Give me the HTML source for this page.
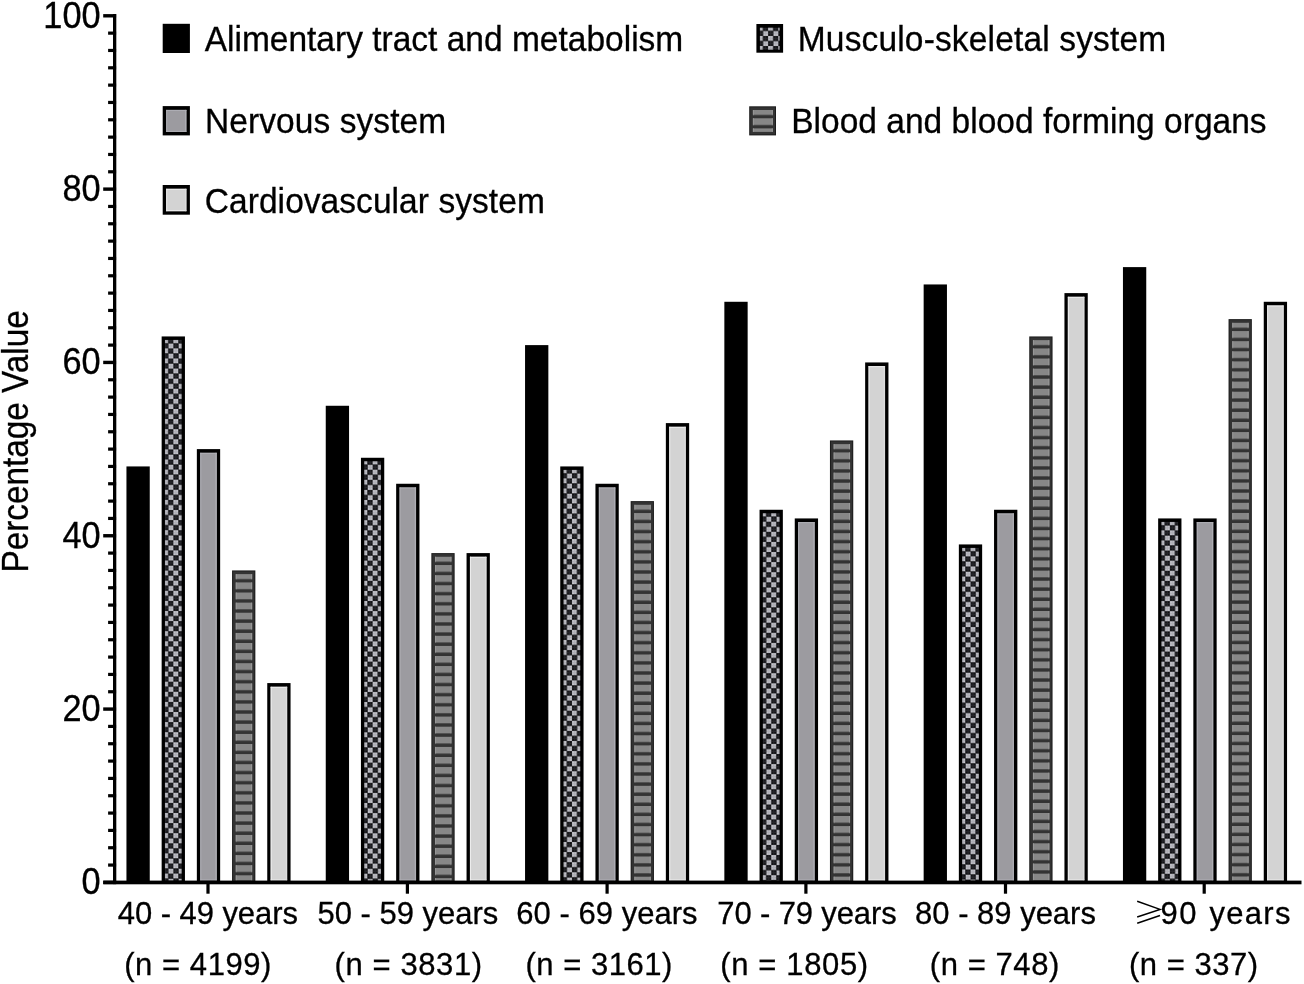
<!DOCTYPE html>
<html><head><meta charset="utf-8"><style>
html,body{margin:0;padding:0;background:#fff;}
body{width:1304px;height:984px;overflow:hidden;}
svg{display:block;will-change:transform;}
text{font-family:"Liberation Sans", sans-serif;fill:#000;stroke:#000;stroke-width:0.3px;}
</style></head><body>
<svg width="1304" height="984" viewBox="0 0 1304 984" shape-rendering="auto">
<defs>
<pattern id="ck1" patternUnits="userSpaceOnUse" x="163.15" y="338.29" width="10.2" height="10.1"><rect x="0.00" y="0.00" width="5.1" height="5.05" fill="#aeaeb5"/><rect x="0.35" y="0.35" width="1.5" height="1.5" fill="#c6c6ce"/><rect x="0.35" y="3.20" width="1.5" height="1.5" fill="#c6c6ce"/><rect x="3.25" y="0.35" width="1.5" height="1.5" fill="#c6c6ce"/><rect x="3.25" y="3.20" width="1.5" height="1.5" fill="#c6c6ce"/><rect x="5.10" y="5.05" width="5.1" height="5.05" fill="#aeaeb5"/><rect x="5.45" y="5.40" width="1.5" height="1.5" fill="#c6c6ce"/><rect x="5.45" y="8.25" width="1.5" height="1.5" fill="#c6c6ce"/><rect x="8.35" y="5.40" width="1.5" height="1.5" fill="#c6c6ce"/><rect x="8.35" y="8.25" width="1.5" height="1.5" fill="#c6c6ce"/><rect x="5.10" y="0.00" width="5.1" height="5.05" fill="#26262b"/><rect x="5.45" y="0.35" width="1.5" height="1.5" fill="#0a0a0d"/><rect x="5.45" y="3.20" width="1.5" height="1.5" fill="#0a0a0d"/><rect x="8.35" y="0.35" width="1.5" height="1.5" fill="#0a0a0d"/><rect x="8.35" y="3.20" width="1.5" height="1.5" fill="#0a0a0d"/><rect x="0.00" y="5.05" width="5.1" height="5.05" fill="#26262b"/><rect x="0.35" y="5.40" width="1.5" height="1.5" fill="#0a0a0d"/><rect x="0.35" y="8.25" width="1.5" height="1.5" fill="#0a0a0d"/><rect x="3.25" y="5.40" width="1.5" height="1.5" fill="#0a0a0d"/><rect x="3.25" y="8.25" width="1.5" height="1.5" fill="#0a0a0d"/></pattern>
<pattern id="st2" patternUnits="userSpaceOnUse" x="0" y="572.32" width="2000" height="10.1"><rect width="2000" height="6.7" fill="#878787"/></pattern>
<pattern id="se2" patternUnits="userSpaceOnUse" x="0" y="572.32" width="2000" height="10.1"><rect width="2000" height="6.7" fill="#989898"/></pattern>
<pattern id="ck3" patternUnits="userSpaceOnUse" x="362.45" y="459.62" width="10.2" height="10.1"><rect x="0.00" y="0.00" width="5.1" height="5.05" fill="#aeaeb5"/><rect x="0.35" y="0.35" width="1.5" height="1.5" fill="#c6c6ce"/><rect x="0.35" y="3.20" width="1.5" height="1.5" fill="#c6c6ce"/><rect x="3.25" y="0.35" width="1.5" height="1.5" fill="#c6c6ce"/><rect x="3.25" y="3.20" width="1.5" height="1.5" fill="#c6c6ce"/><rect x="5.10" y="5.05" width="5.1" height="5.05" fill="#aeaeb5"/><rect x="5.45" y="5.40" width="1.5" height="1.5" fill="#c6c6ce"/><rect x="5.45" y="8.25" width="1.5" height="1.5" fill="#c6c6ce"/><rect x="8.35" y="5.40" width="1.5" height="1.5" fill="#c6c6ce"/><rect x="8.35" y="8.25" width="1.5" height="1.5" fill="#c6c6ce"/><rect x="5.10" y="0.00" width="5.1" height="5.05" fill="#26262b"/><rect x="5.45" y="0.35" width="1.5" height="1.5" fill="#0a0a0d"/><rect x="5.45" y="3.20" width="1.5" height="1.5" fill="#0a0a0d"/><rect x="8.35" y="0.35" width="1.5" height="1.5" fill="#0a0a0d"/><rect x="8.35" y="3.20" width="1.5" height="1.5" fill="#0a0a0d"/><rect x="0.00" y="5.05" width="5.1" height="5.05" fill="#26262b"/><rect x="0.35" y="5.40" width="1.5" height="1.5" fill="#0a0a0d"/><rect x="0.35" y="8.25" width="1.5" height="1.5" fill="#0a0a0d"/><rect x="3.25" y="5.40" width="1.5" height="1.5" fill="#0a0a0d"/><rect x="3.25" y="8.25" width="1.5" height="1.5" fill="#0a0a0d"/></pattern>
<pattern id="st4" patternUnits="userSpaceOnUse" x="0" y="554.99" width="2000" height="10.1"><rect width="2000" height="6.7" fill="#878787"/></pattern>
<pattern id="se4" patternUnits="userSpaceOnUse" x="0" y="554.99" width="2000" height="10.1"><rect width="2000" height="6.7" fill="#989898"/></pattern>
<pattern id="ck5" patternUnits="userSpaceOnUse" x="561.75" y="468.28" width="10.2" height="10.1"><rect x="0.00" y="0.00" width="5.1" height="5.05" fill="#aeaeb5"/><rect x="0.35" y="0.35" width="1.5" height="1.5" fill="#c6c6ce"/><rect x="0.35" y="3.20" width="1.5" height="1.5" fill="#c6c6ce"/><rect x="3.25" y="0.35" width="1.5" height="1.5" fill="#c6c6ce"/><rect x="3.25" y="3.20" width="1.5" height="1.5" fill="#c6c6ce"/><rect x="5.10" y="5.05" width="5.1" height="5.05" fill="#aeaeb5"/><rect x="5.45" y="5.40" width="1.5" height="1.5" fill="#c6c6ce"/><rect x="5.45" y="8.25" width="1.5" height="1.5" fill="#c6c6ce"/><rect x="8.35" y="5.40" width="1.5" height="1.5" fill="#c6c6ce"/><rect x="8.35" y="8.25" width="1.5" height="1.5" fill="#c6c6ce"/><rect x="5.10" y="0.00" width="5.1" height="5.05" fill="#26262b"/><rect x="5.45" y="0.35" width="1.5" height="1.5" fill="#0a0a0d"/><rect x="5.45" y="3.20" width="1.5" height="1.5" fill="#0a0a0d"/><rect x="8.35" y="0.35" width="1.5" height="1.5" fill="#0a0a0d"/><rect x="8.35" y="3.20" width="1.5" height="1.5" fill="#0a0a0d"/><rect x="0.00" y="5.05" width="5.1" height="5.05" fill="#26262b"/><rect x="0.35" y="5.40" width="1.5" height="1.5" fill="#0a0a0d"/><rect x="0.35" y="8.25" width="1.5" height="1.5" fill="#0a0a0d"/><rect x="3.25" y="5.40" width="1.5" height="1.5" fill="#0a0a0d"/><rect x="3.25" y="8.25" width="1.5" height="1.5" fill="#0a0a0d"/></pattern>
<pattern id="st6" patternUnits="userSpaceOnUse" x="0" y="503.00" width="2000" height="10.1"><rect width="2000" height="6.7" fill="#878787"/></pattern>
<pattern id="se6" patternUnits="userSpaceOnUse" x="0" y="503.00" width="2000" height="10.1"><rect width="2000" height="6.7" fill="#989898"/></pattern>
<pattern id="ck7" patternUnits="userSpaceOnUse" x="761.05" y="511.61" width="10.2" height="10.1"><rect x="0.00" y="0.00" width="5.1" height="5.05" fill="#aeaeb5"/><rect x="0.35" y="0.35" width="1.5" height="1.5" fill="#c6c6ce"/><rect x="0.35" y="3.20" width="1.5" height="1.5" fill="#c6c6ce"/><rect x="3.25" y="0.35" width="1.5" height="1.5" fill="#c6c6ce"/><rect x="3.25" y="3.20" width="1.5" height="1.5" fill="#c6c6ce"/><rect x="5.10" y="5.05" width="5.1" height="5.05" fill="#aeaeb5"/><rect x="5.45" y="5.40" width="1.5" height="1.5" fill="#c6c6ce"/><rect x="5.45" y="8.25" width="1.5" height="1.5" fill="#c6c6ce"/><rect x="8.35" y="5.40" width="1.5" height="1.5" fill="#c6c6ce"/><rect x="8.35" y="8.25" width="1.5" height="1.5" fill="#c6c6ce"/><rect x="5.10" y="0.00" width="5.1" height="5.05" fill="#26262b"/><rect x="5.45" y="0.35" width="1.5" height="1.5" fill="#0a0a0d"/><rect x="5.45" y="3.20" width="1.5" height="1.5" fill="#0a0a0d"/><rect x="8.35" y="0.35" width="1.5" height="1.5" fill="#0a0a0d"/><rect x="8.35" y="3.20" width="1.5" height="1.5" fill="#0a0a0d"/><rect x="0.00" y="5.05" width="5.1" height="5.05" fill="#26262b"/><rect x="0.35" y="5.40" width="1.5" height="1.5" fill="#0a0a0d"/><rect x="0.35" y="8.25" width="1.5" height="1.5" fill="#0a0a0d"/><rect x="3.25" y="5.40" width="1.5" height="1.5" fill="#0a0a0d"/><rect x="3.25" y="8.25" width="1.5" height="1.5" fill="#0a0a0d"/></pattern>
<pattern id="st8" patternUnits="userSpaceOnUse" x="0" y="442.33" width="2000" height="10.1"><rect width="2000" height="6.7" fill="#878787"/></pattern>
<pattern id="se8" patternUnits="userSpaceOnUse" x="0" y="442.33" width="2000" height="10.1"><rect width="2000" height="6.7" fill="#989898"/></pattern>
<pattern id="ck9" patternUnits="userSpaceOnUse" x="960.35" y="546.28" width="10.2" height="10.1"><rect x="0.00" y="0.00" width="5.1" height="5.05" fill="#aeaeb5"/><rect x="0.35" y="0.35" width="1.5" height="1.5" fill="#c6c6ce"/><rect x="0.35" y="3.20" width="1.5" height="1.5" fill="#c6c6ce"/><rect x="3.25" y="0.35" width="1.5" height="1.5" fill="#c6c6ce"/><rect x="3.25" y="3.20" width="1.5" height="1.5" fill="#c6c6ce"/><rect x="5.10" y="5.05" width="5.1" height="5.05" fill="#aeaeb5"/><rect x="5.45" y="5.40" width="1.5" height="1.5" fill="#c6c6ce"/><rect x="5.45" y="8.25" width="1.5" height="1.5" fill="#c6c6ce"/><rect x="8.35" y="5.40" width="1.5" height="1.5" fill="#c6c6ce"/><rect x="8.35" y="8.25" width="1.5" height="1.5" fill="#c6c6ce"/><rect x="5.10" y="0.00" width="5.1" height="5.05" fill="#26262b"/><rect x="5.45" y="0.35" width="1.5" height="1.5" fill="#0a0a0d"/><rect x="5.45" y="3.20" width="1.5" height="1.5" fill="#0a0a0d"/><rect x="8.35" y="0.35" width="1.5" height="1.5" fill="#0a0a0d"/><rect x="8.35" y="3.20" width="1.5" height="1.5" fill="#0a0a0d"/><rect x="0.00" y="5.05" width="5.1" height="5.05" fill="#26262b"/><rect x="0.35" y="5.40" width="1.5" height="1.5" fill="#0a0a0d"/><rect x="0.35" y="8.25" width="1.5" height="1.5" fill="#0a0a0d"/><rect x="3.25" y="5.40" width="1.5" height="1.5" fill="#0a0a0d"/><rect x="3.25" y="8.25" width="1.5" height="1.5" fill="#0a0a0d"/></pattern>
<pattern id="st10" patternUnits="userSpaceOnUse" x="0" y="338.34" width="2000" height="10.1"><rect width="2000" height="6.7" fill="#878787"/></pattern>
<pattern id="se10" patternUnits="userSpaceOnUse" x="0" y="338.34" width="2000" height="10.1"><rect width="2000" height="6.7" fill="#989898"/></pattern>
<pattern id="ck11" patternUnits="userSpaceOnUse" x="1159.65" y="520.28" width="10.2" height="10.1"><rect x="0.00" y="0.00" width="5.1" height="5.05" fill="#aeaeb5"/><rect x="0.35" y="0.35" width="1.5" height="1.5" fill="#c6c6ce"/><rect x="0.35" y="3.20" width="1.5" height="1.5" fill="#c6c6ce"/><rect x="3.25" y="0.35" width="1.5" height="1.5" fill="#c6c6ce"/><rect x="3.25" y="3.20" width="1.5" height="1.5" fill="#c6c6ce"/><rect x="5.10" y="5.05" width="5.1" height="5.05" fill="#aeaeb5"/><rect x="5.45" y="5.40" width="1.5" height="1.5" fill="#c6c6ce"/><rect x="5.45" y="8.25" width="1.5" height="1.5" fill="#c6c6ce"/><rect x="8.35" y="5.40" width="1.5" height="1.5" fill="#c6c6ce"/><rect x="8.35" y="8.25" width="1.5" height="1.5" fill="#c6c6ce"/><rect x="5.10" y="0.00" width="5.1" height="5.05" fill="#26262b"/><rect x="5.45" y="0.35" width="1.5" height="1.5" fill="#0a0a0d"/><rect x="5.45" y="3.20" width="1.5" height="1.5" fill="#0a0a0d"/><rect x="8.35" y="0.35" width="1.5" height="1.5" fill="#0a0a0d"/><rect x="8.35" y="3.20" width="1.5" height="1.5" fill="#0a0a0d"/><rect x="0.00" y="5.05" width="5.1" height="5.05" fill="#26262b"/><rect x="0.35" y="5.40" width="1.5" height="1.5" fill="#0a0a0d"/><rect x="0.35" y="8.25" width="1.5" height="1.5" fill="#0a0a0d"/><rect x="3.25" y="5.40" width="1.5" height="1.5" fill="#0a0a0d"/><rect x="3.25" y="8.25" width="1.5" height="1.5" fill="#0a0a0d"/></pattern>
<pattern id="st12" patternUnits="userSpaceOnUse" x="0" y="321.01" width="2000" height="10.1"><rect width="2000" height="6.7" fill="#878787"/></pattern>
<pattern id="se12" patternUnits="userSpaceOnUse" x="0" y="321.01" width="2000" height="10.1"><rect width="2000" height="6.7" fill="#989898"/></pattern>
<pattern id="ck13" patternUnits="userSpaceOnUse" x="757.90" y="25.85" width="10.2" height="10.1"><rect x="0.00" y="0.00" width="5.1" height="5.05" fill="#aeaeb5"/><rect x="0.35" y="0.35" width="1.5" height="1.5" fill="#c6c6ce"/><rect x="0.35" y="3.20" width="1.5" height="1.5" fill="#c6c6ce"/><rect x="3.25" y="0.35" width="1.5" height="1.5" fill="#c6c6ce"/><rect x="3.25" y="3.20" width="1.5" height="1.5" fill="#c6c6ce"/><rect x="5.10" y="5.05" width="5.1" height="5.05" fill="#aeaeb5"/><rect x="5.45" y="5.40" width="1.5" height="1.5" fill="#c6c6ce"/><rect x="5.45" y="8.25" width="1.5" height="1.5" fill="#c6c6ce"/><rect x="8.35" y="5.40" width="1.5" height="1.5" fill="#c6c6ce"/><rect x="8.35" y="8.25" width="1.5" height="1.5" fill="#c6c6ce"/><rect x="5.10" y="0.00" width="5.1" height="5.05" fill="#26262b"/><rect x="5.45" y="0.35" width="1.5" height="1.5" fill="#0a0a0d"/><rect x="5.45" y="3.20" width="1.5" height="1.5" fill="#0a0a0d"/><rect x="8.35" y="0.35" width="1.5" height="1.5" fill="#0a0a0d"/><rect x="8.35" y="3.20" width="1.5" height="1.5" fill="#0a0a0d"/><rect x="0.00" y="5.05" width="5.1" height="5.05" fill="#26262b"/><rect x="0.35" y="5.40" width="1.5" height="1.5" fill="#0a0a0d"/><rect x="0.35" y="8.25" width="1.5" height="1.5" fill="#0a0a0d"/><rect x="3.25" y="5.40" width="1.5" height="1.5" fill="#0a0a0d"/><rect x="3.25" y="8.25" width="1.5" height="1.5" fill="#0a0a0d"/></pattern>
<pattern id="st14" patternUnits="userSpaceOnUse" x="0" y="108.20" width="2000" height="10.1"><rect width="2000" height="6.7" fill="#878787"/></pattern>
<pattern id="se14" patternUnits="userSpaceOnUse" x="0" y="108.20" width="2000" height="10.1"><rect width="2000" height="6.7" fill="#989898"/></pattern>
</defs>
<rect width="1304" height="984" fill="#fff"/>
<rect x="126.45" y="466.43" width="23.30" height="417.47" fill="#000"/>
<rect x="161.65" y="336.44" width="23.30" height="547.46" fill="#000"/>
<rect x="164.95" y="339.94" width="16.70" height="540.66" fill="url(#ck1)"/>
<rect x="196.85" y="449.10" width="23.30" height="434.80" fill="#000"/>
<rect x="200.25" y="452.80" width="16.50" height="427.70" fill="#9c9ba0"/>
<rect x="200.25" y="452.80" width="1" height="427.70" fill="#b0b0b6"/>
<rect x="200.25" y="452.80" width="16.50" height="1" fill="#b0b0b6"/>
<rect x="200.25" y="879.50" width="16.50" height="1" fill="#b0b0b6"/>
<rect x="215.45" y="452.80" width="1.3" height="427.70" fill="#aeaeb4"/>
<rect x="232.05" y="570.42" width="23.30" height="313.48" fill="#1c1c1c"/>
<rect x="233.05" y="571.42" width="21.30" height="311.48" fill="#333333"/>
<rect x="235.75" y="574.12" width="16.40" height="306.28" fill="url(#st2)"/>
<rect x="235.75" y="574.12" width="1" height="306.28" fill="url(#se2)"/>
<rect x="251.15" y="574.12" width="1" height="306.28" fill="url(#se2)"/>
<rect x="267.25" y="683.08" width="23.30" height="200.82" fill="#000"/>
<rect x="270.65" y="686.78" width="16.50" height="193.72" fill="#d3d3d3"/>
<rect x="270.65" y="686.78" width="1" height="193.72" fill="#eeeeee"/>
<rect x="270.65" y="686.78" width="16.50" height="1" fill="#eeeeee"/>
<rect x="270.65" y="879.50" width="16.50" height="1" fill="#eeeeee"/>
<rect x="285.85" y="686.78" width="1.3" height="193.72" fill="#dddddd"/>
<rect x="325.75" y="405.77" width="23.30" height="478.13" fill="#000"/>
<rect x="360.95" y="457.77" width="23.30" height="426.13" fill="#000"/>
<rect x="364.25" y="461.27" width="16.70" height="419.33" fill="url(#ck3)"/>
<rect x="396.15" y="483.76" width="23.30" height="400.14" fill="#000"/>
<rect x="399.55" y="487.46" width="16.50" height="393.04" fill="#9c9ba0"/>
<rect x="399.55" y="487.46" width="1" height="393.04" fill="#b0b0b6"/>
<rect x="399.55" y="487.46" width="16.50" height="1" fill="#b0b0b6"/>
<rect x="399.55" y="879.50" width="16.50" height="1" fill="#b0b0b6"/>
<rect x="414.75" y="487.46" width="1.3" height="393.04" fill="#aeaeb4"/>
<rect x="431.35" y="553.09" width="23.30" height="330.81" fill="#1c1c1c"/>
<rect x="432.35" y="554.09" width="21.30" height="328.81" fill="#333333"/>
<rect x="435.05" y="556.79" width="16.40" height="323.61" fill="url(#st4)"/>
<rect x="435.05" y="556.79" width="1" height="323.61" fill="url(#se4)"/>
<rect x="450.45" y="556.79" width="1" height="323.61" fill="url(#se4)"/>
<rect x="466.55" y="553.09" width="23.30" height="330.81" fill="#000"/>
<rect x="469.95" y="556.79" width="16.50" height="323.71" fill="#d3d3d3"/>
<rect x="469.95" y="556.79" width="1" height="323.71" fill="#eeeeee"/>
<rect x="469.95" y="556.79" width="16.50" height="1" fill="#eeeeee"/>
<rect x="469.95" y="879.50" width="16.50" height="1" fill="#eeeeee"/>
<rect x="485.15" y="556.79" width="1.3" height="323.71" fill="#dddddd"/>
<rect x="525.05" y="345.11" width="23.30" height="538.79" fill="#000"/>
<rect x="560.25" y="466.43" width="23.30" height="417.47" fill="#000"/>
<rect x="563.55" y="469.93" width="16.70" height="410.67" fill="url(#ck5)"/>
<rect x="595.45" y="483.76" width="23.30" height="400.14" fill="#000"/>
<rect x="598.85" y="487.46" width="16.50" height="393.04" fill="#9c9ba0"/>
<rect x="598.85" y="487.46" width="1" height="393.04" fill="#b0b0b6"/>
<rect x="598.85" y="487.46" width="16.50" height="1" fill="#b0b0b6"/>
<rect x="598.85" y="879.50" width="16.50" height="1" fill="#b0b0b6"/>
<rect x="614.05" y="487.46" width="1.3" height="393.04" fill="#aeaeb4"/>
<rect x="630.65" y="501.10" width="23.30" height="382.80" fill="#1c1c1c"/>
<rect x="631.65" y="502.10" width="21.30" height="380.80" fill="#333333"/>
<rect x="634.35" y="504.80" width="16.40" height="375.60" fill="url(#st6)"/>
<rect x="634.35" y="504.80" width="1" height="375.60" fill="url(#se6)"/>
<rect x="649.75" y="504.80" width="1" height="375.60" fill="url(#se6)"/>
<rect x="665.85" y="423.10" width="23.30" height="460.80" fill="#000"/>
<rect x="669.25" y="426.80" width="16.50" height="453.70" fill="#d3d3d3"/>
<rect x="669.25" y="426.80" width="1" height="453.70" fill="#eeeeee"/>
<rect x="669.25" y="426.80" width="16.50" height="1" fill="#eeeeee"/>
<rect x="669.25" y="879.50" width="16.50" height="1" fill="#eeeeee"/>
<rect x="684.45" y="426.80" width="1.3" height="453.70" fill="#dddddd"/>
<rect x="724.35" y="301.78" width="23.30" height="582.12" fill="#000"/>
<rect x="759.55" y="509.76" width="23.30" height="374.14" fill="#000"/>
<rect x="762.85" y="513.26" width="16.70" height="367.34" fill="url(#ck7)"/>
<rect x="794.75" y="518.43" width="23.30" height="365.47" fill="#000"/>
<rect x="798.15" y="522.13" width="16.50" height="358.37" fill="#9c9ba0"/>
<rect x="798.15" y="522.13" width="1" height="358.37" fill="#b0b0b6"/>
<rect x="798.15" y="522.13" width="16.50" height="1" fill="#b0b0b6"/>
<rect x="798.15" y="879.50" width="16.50" height="1" fill="#b0b0b6"/>
<rect x="813.35" y="522.13" width="1.3" height="358.37" fill="#aeaeb4"/>
<rect x="829.95" y="440.43" width="23.30" height="443.47" fill="#1c1c1c"/>
<rect x="830.95" y="441.43" width="21.30" height="441.47" fill="#333333"/>
<rect x="833.65" y="444.13" width="16.40" height="436.27" fill="url(#st8)"/>
<rect x="833.65" y="444.13" width="1" height="436.27" fill="url(#se8)"/>
<rect x="849.05" y="444.13" width="1" height="436.27" fill="url(#se8)"/>
<rect x="865.15" y="362.44" width="23.30" height="521.46" fill="#000"/>
<rect x="868.55" y="366.14" width="16.50" height="514.36" fill="#d3d3d3"/>
<rect x="868.55" y="366.14" width="1" height="514.36" fill="#eeeeee"/>
<rect x="868.55" y="366.14" width="16.50" height="1" fill="#eeeeee"/>
<rect x="868.55" y="879.50" width="16.50" height="1" fill="#eeeeee"/>
<rect x="883.75" y="366.14" width="1.3" height="514.36" fill="#dddddd"/>
<rect x="923.65" y="284.45" width="23.30" height="599.45" fill="#000"/>
<rect x="958.85" y="544.43" width="23.30" height="339.47" fill="#000"/>
<rect x="962.15" y="547.93" width="16.70" height="332.67" fill="url(#ck9)"/>
<rect x="994.05" y="509.76" width="23.30" height="374.14" fill="#000"/>
<rect x="997.45" y="513.46" width="16.50" height="367.04" fill="#9c9ba0"/>
<rect x="997.45" y="513.46" width="1" height="367.04" fill="#b0b0b6"/>
<rect x="997.45" y="513.46" width="16.50" height="1" fill="#b0b0b6"/>
<rect x="997.45" y="879.50" width="16.50" height="1" fill="#b0b0b6"/>
<rect x="1012.65" y="513.46" width="1.3" height="367.04" fill="#aeaeb4"/>
<rect x="1029.25" y="336.44" width="23.30" height="547.46" fill="#1c1c1c"/>
<rect x="1030.25" y="337.44" width="21.30" height="545.46" fill="#333333"/>
<rect x="1032.95" y="340.14" width="16.40" height="540.26" fill="url(#st10)"/>
<rect x="1032.95" y="340.14" width="1" height="540.26" fill="url(#se10)"/>
<rect x="1048.35" y="340.14" width="1" height="540.26" fill="url(#se10)"/>
<rect x="1064.45" y="293.11" width="23.30" height="590.79" fill="#000"/>
<rect x="1067.85" y="296.81" width="16.50" height="583.69" fill="#d3d3d3"/>
<rect x="1067.85" y="296.81" width="1" height="583.69" fill="#eeeeee"/>
<rect x="1067.85" y="296.81" width="16.50" height="1" fill="#eeeeee"/>
<rect x="1067.85" y="879.50" width="16.50" height="1" fill="#eeeeee"/>
<rect x="1083.05" y="296.81" width="1.3" height="583.69" fill="#dddddd"/>
<rect x="1122.95" y="267.11" width="23.30" height="616.79" fill="#000"/>
<rect x="1158.15" y="518.43" width="23.30" height="365.47" fill="#000"/>
<rect x="1161.45" y="521.93" width="16.70" height="358.67" fill="url(#ck11)"/>
<rect x="1193.35" y="518.43" width="23.30" height="365.47" fill="#000"/>
<rect x="1196.75" y="522.13" width="16.50" height="358.37" fill="#9c9ba0"/>
<rect x="1196.75" y="522.13" width="1" height="358.37" fill="#b0b0b6"/>
<rect x="1196.75" y="522.13" width="16.50" height="1" fill="#b0b0b6"/>
<rect x="1196.75" y="879.50" width="16.50" height="1" fill="#b0b0b6"/>
<rect x="1211.95" y="522.13" width="1.3" height="358.37" fill="#aeaeb4"/>
<rect x="1228.55" y="319.11" width="23.30" height="564.79" fill="#1c1c1c"/>
<rect x="1229.55" y="320.11" width="21.30" height="562.79" fill="#333333"/>
<rect x="1232.25" y="322.81" width="16.40" height="557.59" fill="url(#st12)"/>
<rect x="1232.25" y="322.81" width="1" height="557.59" fill="url(#se12)"/>
<rect x="1247.65" y="322.81" width="1" height="557.59" fill="url(#se12)"/>
<rect x="1263.75" y="301.78" width="23.30" height="582.12" fill="#000"/>
<rect x="1267.15" y="305.48" width="16.50" height="575.02" fill="#d3d3d3"/>
<rect x="1267.15" y="305.48" width="1" height="575.02" fill="#eeeeee"/>
<rect x="1267.15" y="305.48" width="16.50" height="1" fill="#eeeeee"/>
<rect x="1267.15" y="879.50" width="16.50" height="1" fill="#eeeeee"/>
<rect x="1282.35" y="305.48" width="1.3" height="575.02" fill="#dddddd"/>
<rect x="113.00" y="14.00" width="3.30" height="870.10" fill="#000"/>
<rect x="103.20" y="880.70" width="12.90" height="3.40" fill="#000"/>
<rect x="108.10" y="863.47" width="8.00" height="3.20" fill="#000"/>
<rect x="108.10" y="846.14" width="8.00" height="3.20" fill="#000"/>
<rect x="108.10" y="828.80" width="8.00" height="3.20" fill="#000"/>
<rect x="108.10" y="811.47" width="8.00" height="3.20" fill="#000"/>
<rect x="108.10" y="794.14" width="8.00" height="3.20" fill="#000"/>
<rect x="108.10" y="776.81" width="8.00" height="3.20" fill="#000"/>
<rect x="108.10" y="759.48" width="8.00" height="3.20" fill="#000"/>
<rect x="108.10" y="742.14" width="8.00" height="3.20" fill="#000"/>
<rect x="108.10" y="724.81" width="8.00" height="3.20" fill="#000"/>
<rect x="103.20" y="707.38" width="12.90" height="3.40" fill="#000"/>
<rect x="108.10" y="690.15" width="8.00" height="3.20" fill="#000"/>
<rect x="108.10" y="672.82" width="8.00" height="3.20" fill="#000"/>
<rect x="108.10" y="655.48" width="8.00" height="3.20" fill="#000"/>
<rect x="108.10" y="638.15" width="8.00" height="3.20" fill="#000"/>
<rect x="108.10" y="620.82" width="8.00" height="3.20" fill="#000"/>
<rect x="108.10" y="603.49" width="8.00" height="3.20" fill="#000"/>
<rect x="108.10" y="586.16" width="8.00" height="3.20" fill="#000"/>
<rect x="108.10" y="568.82" width="8.00" height="3.20" fill="#000"/>
<rect x="108.10" y="551.49" width="8.00" height="3.20" fill="#000"/>
<rect x="103.20" y="534.06" width="12.90" height="3.40" fill="#000"/>
<rect x="108.10" y="516.83" width="8.00" height="3.20" fill="#000"/>
<rect x="108.10" y="499.50" width="8.00" height="3.20" fill="#000"/>
<rect x="108.10" y="482.16" width="8.00" height="3.20" fill="#000"/>
<rect x="108.10" y="464.83" width="8.00" height="3.20" fill="#000"/>
<rect x="108.10" y="447.50" width="8.00" height="3.20" fill="#000"/>
<rect x="108.10" y="430.17" width="8.00" height="3.20" fill="#000"/>
<rect x="108.10" y="412.84" width="8.00" height="3.20" fill="#000"/>
<rect x="108.10" y="395.50" width="8.00" height="3.20" fill="#000"/>
<rect x="108.10" y="378.17" width="8.00" height="3.20" fill="#000"/>
<rect x="103.20" y="360.74" width="12.90" height="3.40" fill="#000"/>
<rect x="108.10" y="343.51" width="8.00" height="3.20" fill="#000"/>
<rect x="108.10" y="326.18" width="8.00" height="3.20" fill="#000"/>
<rect x="108.10" y="308.84" width="8.00" height="3.20" fill="#000"/>
<rect x="108.10" y="291.51" width="8.00" height="3.20" fill="#000"/>
<rect x="108.10" y="274.18" width="8.00" height="3.20" fill="#000"/>
<rect x="108.10" y="256.85" width="8.00" height="3.20" fill="#000"/>
<rect x="108.10" y="239.52" width="8.00" height="3.20" fill="#000"/>
<rect x="108.10" y="222.18" width="8.00" height="3.20" fill="#000"/>
<rect x="108.10" y="204.85" width="8.00" height="3.20" fill="#000"/>
<rect x="103.20" y="187.42" width="12.90" height="3.40" fill="#000"/>
<rect x="108.10" y="170.19" width="8.00" height="3.20" fill="#000"/>
<rect x="108.10" y="152.86" width="8.00" height="3.20" fill="#000"/>
<rect x="108.10" y="135.52" width="8.00" height="3.20" fill="#000"/>
<rect x="108.10" y="118.19" width="8.00" height="3.20" fill="#000"/>
<rect x="108.10" y="100.86" width="8.00" height="3.20" fill="#000"/>
<rect x="108.10" y="83.53" width="8.00" height="3.20" fill="#000"/>
<rect x="108.10" y="66.20" width="8.00" height="3.20" fill="#000"/>
<rect x="108.10" y="48.86" width="8.00" height="3.20" fill="#000"/>
<rect x="108.10" y="31.53" width="8.00" height="3.20" fill="#000"/>
<rect x="103.20" y="14.10" width="12.90" height="3.40" fill="#000"/>
<rect x="103.30" y="880.60" width="1198.20" height="3.70" fill="#000"/>
<rect x="206.40" y="883.00" width="3.20" height="10.70" fill="#000"/>
<rect x="405.80" y="883.00" width="3.20" height="10.70" fill="#000"/>
<rect x="605.50" y="883.00" width="3.20" height="10.70" fill="#000"/>
<rect x="804.30" y="883.00" width="3.20" height="10.70" fill="#000"/>
<rect x="1003.90" y="883.00" width="3.20" height="10.70" fill="#000"/>
<rect x="1202.60" y="883.00" width="3.20" height="10.70" fill="#000"/>
<rect x="162.70" y="23.80" width="27.20" height="29.20" fill="#000"/>
<rect x="756.40" y="24.00" width="26.70" height="28.70" fill="#000"/>
<rect x="759.90" y="27.70" width="19.70" height="22.00" fill="url(#ck13)"/>
<rect x="162.70" y="106.10" width="27.20" height="29.30" fill="#000"/>
<rect x="166.20" y="109.90" width="20.20" height="22.00" fill="#9c9ba0"/>
<rect x="166.20" y="109.90" width="1" height="22.00" fill="#b0b0b6"/>
<rect x="166.20" y="109.90" width="20.20" height="1" fill="#b0b0b6"/>
<rect x="166.20" y="130.90" width="20.20" height="1" fill="#b0b0b6"/>
<rect x="185.10" y="109.90" width="1.3" height="22.00" fill="#aeaeb4"/>
<rect x="749.20" y="106.30" width="26.80" height="29.10" fill="#1c1c1c"/>
<rect x="750.20" y="107.30" width="24.80" height="27.10" fill="#333333"/>
<rect x="752.90" y="110.00" width="19.90" height="21.90" fill="url(#st14)"/>
<rect x="752.90" y="110.00" width="1" height="21.90" fill="url(#se14)"/>
<rect x="771.80" y="110.00" width="1" height="21.90" fill="url(#se14)"/>
<rect x="162.70" y="185.00" width="27.20" height="29.70" fill="#000"/>
<rect x="166.20" y="188.80" width="20.20" height="22.40" fill="#d3d3d3"/>
<rect x="166.20" y="188.80" width="1" height="22.40" fill="#eeeeee"/>
<rect x="166.20" y="188.80" width="20.20" height="1" fill="#eeeeee"/>
<rect x="166.20" y="210.20" width="20.20" height="1" fill="#eeeeee"/>
<rect x="185.10" y="188.80" width="1.3" height="22.40" fill="#dddddd"/>
<text transform="translate(204.63,51.40) scale(1,1.04)" font-size="33.5" textLength="478.63" lengthAdjust="spacing">Alimentary tract and metabolism</text>
<text transform="translate(797.81,51.30) scale(1,1.04)" font-size="33.5" textLength="368.35" lengthAdjust="spacing">Musculo-skeletal system</text>
<text transform="translate(204.96,133.30) scale(1,1.04)" font-size="33.5" textLength="241.20" lengthAdjust="spacing">Nervous system</text>
<text transform="translate(791.17,133.10) scale(1,1.04)" font-size="33.5" textLength="475.43" lengthAdjust="spacing">Blood and blood forming organs</text>
<text transform="translate(204.79,212.70) scale(1,1.04)" font-size="33.5" textLength="339.99" lengthAdjust="spacing">Cardiovascular system</text>
<text transform="translate(117.83,924.00) scale(1,1.03)" font-size="31.0" textLength="180.15" lengthAdjust="spacing">40 - 49 years</text>
<text transform="translate(317.57,924.00) scale(1,1.03)" font-size="31.0" textLength="180.64" lengthAdjust="spacing">50 - 59 years</text>
<text transform="translate(516.36,924.00) scale(1,1.03)" font-size="31.0" textLength="181.21" lengthAdjust="spacing">60 - 69 years</text>
<text transform="translate(717.30,924.00) scale(1,1.03)" font-size="31.0" textLength="179.36" lengthAdjust="spacing">70 - 79 years</text>
<text transform="translate(915.08,924.00) scale(1,1.03)" font-size="31.0" textLength="180.84" lengthAdjust="spacing">80 - 89 years</text>
<text transform="translate(1160.60,924.00) scale(1,1.03)" font-size="31.0" textLength="35.84" lengthAdjust="spacing">90</text>
<text transform="translate(1209.48,924.00) scale(1,1.03)" font-size="31.0" textLength="81.00" lengthAdjust="spacing">years</text>
<text transform="translate(124.25,974.70) scale(1,1.0)" font-size="31.0" textLength="147.06" lengthAdjust="spacing">(n = 4199)</text>
<text transform="translate(334.56,974.70) scale(1,1.0)" font-size="31.0" textLength="147.54" lengthAdjust="spacing">(n = 3831)</text>
<text transform="translate(525.40,974.70) scale(1,1.0)" font-size="31.0" textLength="146.91" lengthAdjust="spacing">(n = 3161)</text>
<text transform="translate(720.25,974.70) scale(1,1.0)" font-size="31.0" textLength="147.85" lengthAdjust="spacing">(n = 1805)</text>
<text transform="translate(929.86,974.70) scale(1,1.0)" font-size="31.0" textLength="129.41" lengthAdjust="spacing">(n = 748)</text>
<text transform="translate(1129.06,974.70) scale(1,1.0)" font-size="31.0" textLength="128.96" lengthAdjust="spacing">(n = 337)</text>
<text transform="translate(27.9,572.50) rotate(-90) scale(1,1.09)" font-size="33.4" textLength="262.26" lengthAdjust="spacing">Percentage Value</text>
<text transform="translate(81.50,894.40) scale(1,1.05)" font-size="34.3">0</text>
<text transform="translate(62.43,721.08) scale(1,1.05)" font-size="34.3">20</text>
<text transform="translate(62.43,547.76) scale(1,1.05)" font-size="34.3">40</text>
<text transform="translate(62.43,374.44) scale(1,1.05)" font-size="34.3">60</text>
<text transform="translate(62.43,201.12) scale(1,1.05)" font-size="34.3">80</text>
<text transform="translate(43.35,27.80) scale(1,1.05)" font-size="34.3">100</text>
<g stroke="#000" stroke-width="1.5" fill="none" stroke-linecap="butt"><polyline points="1137.2,901.3 1160.0,909.4 1137.2,917.0"/><line x1="1137.2" y1="923.3" x2="1160.0" y2="915.5"/></g>
</svg>
</body></html>
